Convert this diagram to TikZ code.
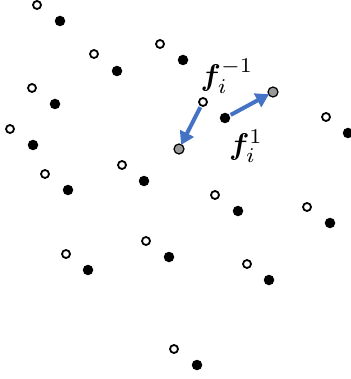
\documentclass[tikz,border=0pt]{standalone}
\usepackage{bm}
\usetikzlibrary{arrows.meta}
\begin{document}
\begin{tikzpicture}[x=1pt,y=-1pt,
  opendot/.style={circle,draw=black,line width=1.8pt,fill=white,minimum size=8pt,inner sep=0pt},
  filldot/.style={circle,fill=black,minimum size=10.5pt,inner sep=0pt},
  graydot/.style={circle,draw=black,line width=1.2pt,fill=black!40,minimum size=10pt,inner sep=0pt},
  bluearrow/.style={draw={rgb,255:red,68;green,114;blue,196},line width=4pt,
    -{Triangle[length=13pt,width=15pt]},shorten >=-1pt,shorten <=1pt},
  lab/.style={inner sep=0pt,scale=3}]
\useasboundingbox (0,0) rectangle (350,379);
% pairs: open and filled
\node[opendot] (o1) at (37,5) {};   \node[filldot] (f1) at (60,21) {};
\node[opendot] (o2) at (94,54) {};  \node[filldot] (f2) at (117,71) {};
\node[opendot] (o3) at (160,44) {}; \node[filldot] (f3) at (183,60) {};
\node[opendot] (o4) at (32,88) {};  \node[filldot] (f4) at (55,104) {};
\node[opendot] (o5) at (10,129) {}; \node[filldot] (f5) at (33,145) {};
\node[opendot] (o6) at (45,174) {}; \node[filldot] (f6) at (68,190) {};
\node[opendot] (o7) at (122,165) {};\node[filldot] (f7) at (144,181) {};
\node[opendot] (o10) at (326,117) {};\node[filldot] (f10) at (348,133) {};
\node[opendot] (o11) at (215,195) {};\node[filldot] (f11) at (238,211) {};
\node[opendot] (o12) at (307,207) {};\node[filldot] (f12) at (330,223) {};
\node[opendot] (o13) at (66,254) {}; \node[filldot] (f13) at (88,270) {};
\node[opendot] (o14) at (146,241) {};\node[filldot] (f14) at (169,257) {};
\node[opendot] (o15) at (247,264) {};\node[filldot] (f15) at (269,280) {};
\node[opendot] (o16) at (174,349) {};\node[filldot] (f16) at (197,365) {};
% highlighted pair
\node[opendot] (o8) at (203,102) {};
\node[graydot] (g8) at (179,149) {};
\node[filldot] (f9) at (225,118) {};
\node[graydot] (g9) at (273,92) {};
\draw[bluearrow] (o8) -- (g8);
\draw[bluearrow] (f9) -- (g9);
\node[lab] (l1) at (227,76) {$\bm{f}_i^{-1}$};
\node[lab] (l2) at (246,146) {$\bm{f}_i^{1}$};
\end{tikzpicture}
\end{document}
